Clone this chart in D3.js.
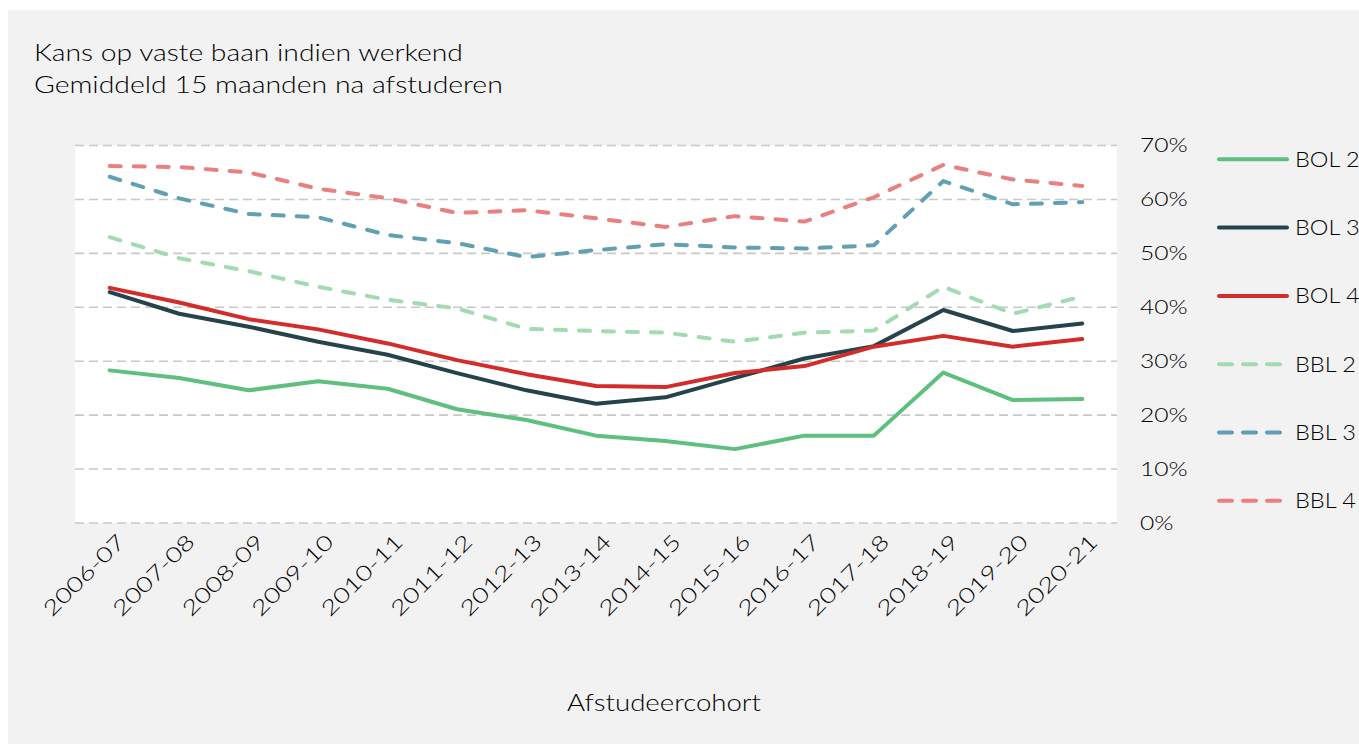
<!DOCTYPE html>
<html>
<head>
<meta charset="utf-8">
<script src="https://cdn.jsdelivr.net/npm/d3@7"></script>
<style>
  body { margin: 0; background: #ffffff; }
  text { font-family: Lato, "Noto Sans", sans-serif; font-weight: 300; fill: #000000; }
</style>
</head>
<body>
<div id="vis"></div>
<script>
// cohorts on the x axis
var cohorts = ["2006-07", "2007-08", "2008-09", "2009-10", "2010-11", "2011-12", "2012-13",
    "2013-14", "2014-15", "2015-16", "2016-17", "2017-18", "2018-19", "2019-20", "2020-21"];

// share with a permanent job (%)
var bol2 = [28.3, 26.9, 24.6, 26.3, 24.9, 21.1, 19.1, 16.2, 15.2, 13.7, 16.2, 16.2, 27.9, 22.8, 23.0];
var bol3 = [42.8, 38.8, 36.4, 33.6, 31.2, 27.8, 24.6, 22.1, 23.3, 26.9, 30.5, 32.8, 39.5, 35.6, 37.0];
var bol4 = [43.6, 40.9, 37.8, 35.9, 33.3, 30.2, 27.6, 25.4, 25.2, 27.8, 29.1, 32.7, 34.7, 32.7, 34.1];
var bbl2 = [53.0, 49.1, 46.7, 43.8, 41.4, 39.8, 36.0, 35.6, 35.3, 33.6, 35.3, 35.7, 43.8, 38.8, 42.0];
var bbl3 = [64.2, 60.2, 57.3, 56.7, 53.4, 51.9, 49.3, 50.6, 51.7, 51.1, 50.9, 51.5, 63.4, 59.1, 59.5];
var bbl4 = [66.2, 66.0, 65.0, 62.0, 60.2, 57.5, 58.0, 56.5, 54.9, 56.9, 55.9, 60.4, 66.4, 63.7, 62.5];

var yTicks = [0, 10, 20, 30, 40, 50, 60, 70];

var seriesNames = ["BOL 2", "BOL 3", "BOL 4", "BBL 2", "BBL 3", "BBL 4"];
var seriesColors = ["#5fbf7e", "#25434b", "#d42b2b", "#a4dab3", "#60a0b2", "#e88080"];
var seriesDashed = [false, false, false, true, true, true];
var seriesValues = [bol2, bol3, bol4, bbl2, bbl3, bbl4];

const WIDTH = 1359;
const HEIGHT = 744;
const PLOT_LEFT = 75;
const PLOT_RIGHT = 1117;
const PLOT_TOP = 145.5;
const PLOT_BOTTOM = 523;
const FONT_SIZE = 20;

// the reference picture is stretched sideways, so the text is widened to match
function stretch(sel, factor) {
    sel.each(function () {
        var len = this.getComputedTextLength();
        d3.select(this)
            .attr("textLength", len * factor)
            .attr("lengthAdjust", "spacingAndGlyphs");
    });
}

var svg = d3.select("#vis")
    .append("svg")
    .attr("width", WIDTH)
    .attr("height", HEIGHT);

// gray panel
svg.append("rect")
    .attr("x", 8)
    .attr("y", 10)
    .attr("width", WIDTH - 8)
    .attr("height", HEIGHT - 10)
    .attr("fill", "#f2f2f2");

var x = d3.scalePoint()
    .domain(cohorts)
    .range([PLOT_LEFT, PLOT_RIGHT])
    .padding(0.5);

var y = d3.scaleLinear()
    .domain([0, 70])
    .range([PLOT_BOTTOM, PLOT_TOP]);

// white plot area
svg.append("rect")
    .attr("x", PLOT_LEFT)
    .attr("y", y(70))
    .attr("width", PLOT_RIGHT - PLOT_LEFT)
    .attr("height", y(0) - y(70))
    .attr("fill", "#ffffff");

// gridlines
svg.append("g")
    .selectAll("line")
    .data(yTicks)
    .enter()
    .append("line")
    .attr("x1", PLOT_LEFT)
    .attr("x2", PLOT_RIGHT)
    .attr("y1", function (d) { return y(d); })
    .attr("y2", function (d) { return y(d); })
    .attr("stroke", "#c8c8c8")
    .attr("stroke-width", 1.6)
    .attr("stroke-dasharray", "9,5");

// y axis on the right, labels only
var yAxis = d3.axisRight(y)
    .tickValues(yTicks)
    .tickSize(0)
    .tickPadding(0)
    .tickFormat(function (d) { return d + "%"; });

var yAxisG = svg.append("g")
    .attr("transform", "translate(1140,0)")
    .call(yAxis);
yAxisG.select(".domain").remove();
yAxisG.selectAll("text")
    .attr("font-size", FONT_SIZE + "px")
    .attr("font-family", "Lato, 'Noto Sans', sans-serif")
    .attr("fill", "#000000")
    .call(stretch, 1.23);

// x axis labels, rotated
var xAxis = d3.axisBottom(x).tickSize(0).tickPadding(0);
var xAxisG = svg.append("g")
    .attr("transform", "translate(0," + PLOT_BOTTOM + ")")
    .call(xAxis);
xAxisG.select(".domain").remove();
xAxisG.selectAll("text")
    .attr("font-size", "21px")
    .attr("font-family", "Lato, 'Noto Sans', sans-serif")
    .attr("fill", "#000000")
    .attr("text-anchor", "end")
    .attr("y", 0)
    .attr("dy", "0.35em")
    .attr("transform", "translate(11,15) rotate(-45)")
    .call(stretch, 1.3);

// series lines
var line = d3.line()
    .x(function (d, i) { return x(cohorts[i]); })
    .y(function (d) { return y(d); });

svg.append("g")
    .selectAll("path")
    .data(seriesValues)
    .enter()
    .append("path")
    .attr("d", function (d) { return line(d); })
    .attr("fill", "none")
    .attr("stroke", function (d, i) { return seriesColors[i]; })
    .attr("stroke-width", 4)
    .attr("stroke-linejoin", "round")
    .attr("stroke-linecap", "round")
    .attr("stroke-dasharray", function (d, i) { return seriesDashed[i] ? "11,13" : null; });

// legend
var legend = svg.append("g")
    .selectAll("g")
    .data(seriesNames)
    .enter()
    .append("g")
    .attr("transform", function (d, i) { return "translate(0," + (159.3 + i * 68.3) + ")"; });

legend.append("line")
    .attr("x1", 1219)
    .attr("x2", function (d, i) { return seriesDashed[i] ? 1280 : 1287; })
    .attr("y1", 0)
    .attr("y2", 0)
    .attr("stroke", function (d, i) { return seriesColors[i]; })
    .attr("stroke-width", 4)
    .attr("stroke-linecap", "round")
    .attr("stroke-dasharray", function (d, i) { return seriesDashed[i] ? "13,11" : null; });

legend.append("text")
    .attr("x", 1295)
    .attr("y", 0)
    .attr("dy", "0.35em")
    .attr("font-size", "21px")
    .text(function (d) { return d; })
    .call(stretch, 1.12);

// titles
svg.append("text")
    .attr("x", 34)
    .attr("y", 61)
    .attr("font-size", "23px")
    .text("Kans op vaste baan indien werkend")
    .call(stretch, 1.23);
svg.append("text")
    .attr("x", 34)
    .attr("y", 93)
    .attr("font-size", "23px")
    .text("Gemiddeld 15 maanden na afstuderen")
    .call(stretch, 1.235);

svg.append("text")
    .attr("x", 664)
    .attr("y", 711)
    .attr("text-anchor", "middle")
    .attr("font-size", "23px")
    .text("Afstudeercohort")
    .call(stretch, 1.2);
</script>
</body>
</html>
